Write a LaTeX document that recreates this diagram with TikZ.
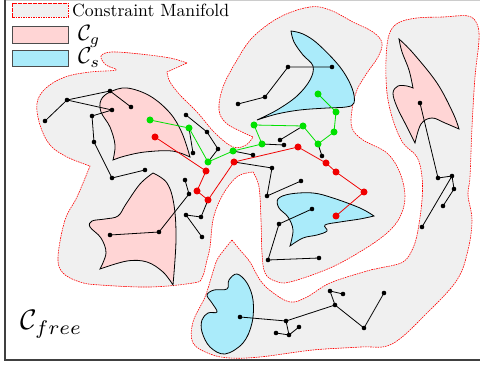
\documentclass[tikz,border=0pt]{standalone}
\usepackage{amsmath}
\usepackage{graphicx}
\begin{document}
\begin{tikzpicture}[x=1pt,y=-1pt,
  region/.style={fill=gfill, draw=red, line width=0.6pt, dash pattern=on 1.6pt off 0.9pt},
  gob/.style={fill=pinkc, draw=black, line width=0.8pt},
  sob/.style={fill=bluec, draw=black, line width=0.8pt},
  bn/.style={circle, fill=black, inner sep=0pt, minimum size=4.6pt},
  gnode/.style={circle, fill=gcol, inner sep=0pt, minimum size=7pt},
  rnode/.style={circle, fill=rcol, inner sep=0pt, minimum size=7pt},
  bl/.style={black, line width=0.8pt},
  gl/.style={gcol, line width=0.8pt},
  rl/.style={rcol, line width=0.8pt}]
\definecolor{gfill}{RGB}{240,240,240}
\definecolor{pinkc}{RGB}{255,213,213}
\definecolor{bluec}{RGB}{170,235,250}
\definecolor{gcol}{RGB}{0,225,0}
\definecolor{rcol}{RGB}{240,0,0}
\useasboundingbox (0,0) rectangle (480,366);
% frame
\draw[black!20, line width=0.8pt] (5,0.4) -- (480,0.4);
\draw[black!75, line width=1.2pt] (5,0) -- (5,360) -- (480,360);

% region A+B+C
\path[region] plot[smooth, tension=0.6] coordinates {(187,63) (170,58) (140,54) (112,52) (101,56) (106,65) (116,70) (90,72) (65,77) (46,88) (37,103) (40,125) (50,145) (67,157) (90,166)}
 -- plot[smooth, tension=0.6] coordinates {(90,166) (77,197) (65,220) (58,257) (63,273) (80,282) (100,285) (150,287) (193,283) (202,278) (207,260) (210,247) (213,220) (220,200) (230,184) (240,175) (253,172)}
 -- plot[smooth, tension=0.6] coordinates {(253,172) (259,187) (261,220) (262,253) (265,273) (275,281) (290,282) (330,268) (363,250) (387,233) (400,217) (405,197) (400,173) (387,153) (363,140) (352,128) (352,110) (357,90) (367,73) (378,57) (382,43) (373,32) (353,22) (330,10) (310,7) (280,17) (253,37) (237,60) (223,87) (219,110) (226,123) (240,131) (253,137)}
 -- plot[smooth, tension=0.6] coordinates {(253,137) (246,145) (233,147) (215,133) (197,112) (180,95) (170,82) (167,72)}
 -- cycle;

% region D+E
\path[region] plot[smooth, tension=0.6] coordinates {(232,240) (224,250) (217,260) (212,275) (205,297) (193,322) (193,343) (210,354) (230,358) (260,357) (313,350) (360,347) (392,344) (427,313) (457,280) (468,250) (472,220) (468,195) (470,177) (472,127) (475,77) (479,40) (477,24) (468,16) (443,17) (417,18) (398,23) (389,35) (386,60) (387,93) (393,120) (403,143) (417,157) (422,177) (422,200) (418,230) (413,248) (403,262) (380,268) (367,271) (330,283) (307,297) (290,302) (272,292) (260,280) (250,262) (240,250) (232,240)}
 -- cycle;

% pink obstacles
\path[gob] (113,160) -- plot[smooth, tension=0.6] coordinates {(113,160) (115,145) (110,127) (101,112) (101,100) (110,92) (127,88) (150,96) (170,113) (182,133) (190,157)}
 -- plot[smooth, tension=0.6] coordinates {(190,157) (172,151) (145,152) (125,156) (113,160)} -- cycle;
\path[gob] plot[smooth, tension=0.6] coordinates {(153,173) (167,183) (174,205) (176,240) (173,285)}
 -- plot[smooth, tension=0.6] coordinates {(173,285) (163,272) (147,262) (127,261) (100,269)}
 -- plot[smooth, tension=0.6] coordinates {(100,269) (106,253) (101,238) (90,227) (92,221) (105,219) (118,216) (126,204) (140,184) (153,173)} -- cycle;
\path[gob] plot[smooth, tension=0.6] coordinates {(399,39) (413,53) (437,83) (453,113) (459,129)}
 -- plot[smooth, tension=0.6] coordinates {(459,129) (445,123) (432,118) (421,124) (415,143)}
 -- plot[smooth, tension=0.6] coordinates {(415,143) (407,127) (397,107) (393,93) (398,86) (407,86) (413,88)}
 -- plot[smooth, tension=0.6] coordinates {(413,88) (409,70) (402,52) (399,39)} -- cycle;

% blue obstacles
\path[sob] plot[smooth, tension=0.6] coordinates {(257,120) (277,110) (297,96) (310,80) (313,66) (303,55) (294,42) (291,31)}
 -- plot[smooth, tension=0.6] coordinates {(291,31) (303,34) (318,44) (340,67) (352,88) (354,103) (346,107) (327,108) (300,110) (277,114) (257,120)} -- cycle;
\path[sob] plot[smooth, tension=0.6] coordinates {(290,246) (293,230) (288,217) (279,208) (278,199) (290,194) (313,193) (333,198) (360,208) (374,216)}
 -- plot[smooth, tension=0.6] coordinates {(374,216) (360,219) (340,222) (325,225) (327,231) (317,235) (303,238) (290,246)} -- cycle;
\path[sob] plot[smooth cycle, tension=0.6] coordinates {(237,274) (247,283) (253,300) (252,323) (243,343) (225,354) (210,347) (202,332) (202,320) (208,313) (217,312) (212,303) (207,295) (214,290) (227,289) (229,280)};

% legend
\path[region] (12,3) rectangle (68,17);
\draw[fill=pinkc, draw=black!70, line width=0.8pt] (12,26) rectangle (68,43);
\draw[fill=bluec, draw=black!70, line width=0.8pt] (12,50) rectangle (68,66);
\node[anchor=base west, inner sep=0pt] (lt1) at (72,16.5) {\resizebox{157pt}{!}{Constraint Manifold}};
\node[anchor=base west, inner sep=0pt] (lt2) at (78,41) {\resizebox{22pt}{!}{$\mathcal{C}_g$}};
\node[anchor=base west, inner sep=0pt] (lt3) at (78,64) {\resizebox{22pt}{!}{$\mathcal{C}_s$}};
\node[anchor=base west, inner sep=0pt] (cfree) at (20,330) {\resizebox{62pt}{!}{$\mathcal{C}_{free}$}};

% coordinates
\foreach \n/\p in {a1/{45,121},a2/{67,100},a3/{110,91},a4/{131,107},a5/{112,110},a6/{92,116},a7/{94,142},a8/{112,178},a9/{145,170},
  b1/{186,115},b2/{207,132},b3/{218,149},b4/{193,153},
  c1/{185,180},c2/{189,194},c3/{159,232},c4/{110,235},
  d1/{186,215},d2/{201,217},d3/{202,237},
  e1/{280,140},e2/{284,145},e3/{253,155},e4/{322,156},e5/{272,168},e6/{267,196},e7/{301,181},
  f1/{312,209},f2/{279,224},f3/{268,260},f4/{319,258},
  h1/{238,104},h2/{265,97},h3/{288,67},h4/{332,67},
  i1/{420,103},i2/{438,178},i3/{452,176},i4/{454,189},i5/{443,206},i6/{422,227},
  j1/{240,317},j2/{286,321},j3/{276,333},j4/{289,335},j5/{299,327},j6/{335,305},j7/{330,291},j8/{343,294},j9/{364,328},j10/{384,293}}
  \coordinate (\n) at (\p);
\foreach \n/\p in {g1/{150,120},g2/{189,128},g3/{208,162},g4/{233,151},g5/{262,144},g6/{254,125},g7/{303,126},g8/{318,144},g9/{334,132},g10/{336,112},g11/{318,94},
  r1/{155,137},r2/{206,171},r3/{197,191},r4/{208,200},r5/{234,162},r6/{298,147},r7/{326,163},r8/{336,172},r9/{364,192},r10/{336,216}}
  \coordinate (\n) at (\p);

% black edges
\draw[bl] (a1)--(a2)--(a3)--(a4) (a2)--(a5)--(a6)--(a7)--(a8)--(a9);
\draw[bl] (b1)--(b2)--(b3)--(g3) (g2)--(b4);
\draw[bl] (c1)--(c2)--(c3)--(c4);
\draw[bl] (d3)--(d1)--(d2)--(r4);
\draw[bl] (e1)--(g7) (e2)--(g5) (e3)--(g4) (e4)--(g8) (r5)--(e5)--(e6)--(e7);
\draw[bl] (f1)--(f2)--(f3)--(f4);
\draw[bl] (h1)--(h2)--(h3)--(h4);
\draw[bl] (i1)--(i2)--(i3)--(i4)--(i5) (i3)--(i6);
\draw[bl] (j1)--(j2)--(j4) (j3)--(j4)--(j5) (j2)--(j6)--(j7)--(j8) (j6)--(j9)--(j10);
% green and red paths
\draw[gl] (g1)--(g2)--(g3)--(g4)--(g5)--(g6)--(g7)--(g8)--(g9)--(g10)--(g11);
\draw[rl] (r1)--(r2)--(r3)--(r4)--(r5)--(r6)--(r7)--(r8)--(r9)--(r10);

\foreach \n in {a1,a2,a3,a4,a5,a6,a7,a8,a9,b1,b2,b3,b4,c1,c2,c3,c4,d1,d2,d3,e1,e2,e3,e4,e5,e6,e7,f1,f2,f3,f4,h1,h2,h3,h4,i1,i2,i3,i4,i5,i6,j1,j2,j3,j4,j5,j6,j7,j8,j9,j10}
  \node[bn] at (\n) {};
\foreach \n in {g1,g2,g3,g4,g5,g6,g7,g8,g9,g10,g11}
  \node[gnode] at (\n) {};
\foreach \n in {r1,r2,r3,r4,r5,r6,r7,r8,r9,r10}
  \node[rnode] at (\n) {};
\end{tikzpicture}
\end{document}
